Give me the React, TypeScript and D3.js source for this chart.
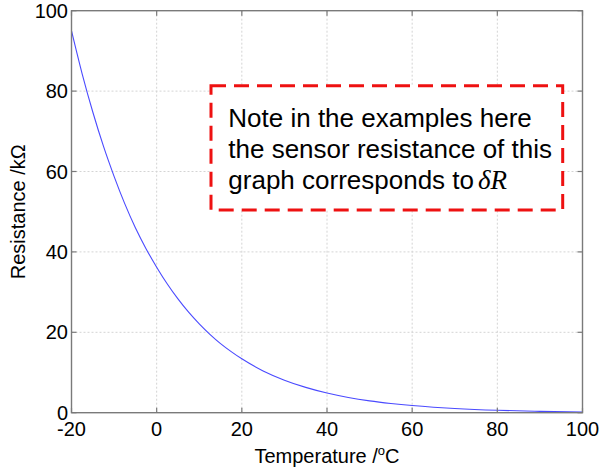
import React from "react";
import * as d3 from "d3";

const temperatures = [-20, -17.5, -15, -12.5, -10, -7.5, -5, -2.5, 0, 2.5, 5, 7.5, 10, 12.5, 15, 17.5, 20, 25, 30, 35, 40, 45, 50, 55, 60, 65, 70, 80, 90, 100];
const resistances = [95, 84.3, 74.8, 66.3, 58.8, 52.0, 46.0, 40.8, 36.2, 32.0, 28.3, 25.0, 22.1, 19.5, 17.2, 15.2, 13.4, 10.4, 8.1, 6.3, 4.9, 3.8, 2.95, 2.3, 1.78, 1.37, 1.05, 0.6, 0.34, 0.19];
const xTicks = [-20, 0, 20, 40, 60, 80, 100];
const yTicks = [0, 20, 40, 60, 80, 100];
const noteLines = ["Note in the examples here", "the sensor resistance of this", "graph corresponds to"];

const W = 599;
const H = 471;
const L = 71.5, R = 582.5, T = 10.7, B = 412.7;

export default function App() {
  const x = d3.scaleLinear().domain([-20, 100]).range([L, R]);
  const y = d3.scaleLinear().domain([0, 100]).range([B, T]);
  const data = temperatures.map((t, i) => [t, resistances[i]] as [number, number]);
  const line = d3
    .line<[number, number]>()
    .x((d) => x(d[0]))
    .y((d) => y(d[1]))
    .curve(d3.curveMonotoneX);
  const axisColor = "#7a7a7a";
  const font = "'Liberation Sans', Arial, sans-serif";
  return (
    <svg width={W} height={H} style={{ position: "absolute", left: 0, top: 0, background: "#fff" }} fontFamily={font}>
      <rect x={0} y={0} width={W} height={H} fill="#fff" />
      {xTicks.slice(1, -1).map((t) => (
        <line key={"gx" + t} x1={x(t)} x2={x(t)} y1={T} y2={B} stroke="#d4d4d4" strokeWidth={1} strokeDasharray="2,2" />
      ))}
      {yTicks.slice(1, -1).map((t) => (
        <line key={"gy" + t} x1={L} x2={R} y1={y(t)} y2={y(t)} stroke="#d4d4d4" strokeWidth={1} strokeDasharray="2,2" />
      ))}
      <path d={line(data) || ""} fill="none" stroke="#4a4aff" strokeWidth={1.1} />
      <rect x={L} y={T} width={R - L} height={B - T} fill="none" stroke={axisColor} strokeWidth={1.4} />
      {xTicks.map((t) => (
        <g key={"tx" + t}>
          <line x1={x(t)} x2={x(t)} y1={B} y2={B - 5} stroke={axisColor} strokeWidth={1.2} />
          <line x1={x(t)} x2={x(t)} y1={T} y2={T + 5} stroke={axisColor} strokeWidth={1.2} />
          <text x={x(t)} y={436} textAnchor="middle" fontSize={20} fill="#000">
            {t}
          </text>
        </g>
      ))}
      {yTicks.map((t) => (
        <g key={"ty" + t}>
          <line x1={L} x2={L + 5} y1={y(t)} y2={y(t)} stroke={axisColor} strokeWidth={1.2} />
          <line x1={R} x2={R - 5} y1={y(t)} y2={y(t)} stroke={axisColor} strokeWidth={1.2} />
          <text x={68} y={y(t) + 7} textAnchor="end" fontSize={20} fill="#000">
            {t}
          </text>
        </g>
      ))}
      <text x={(L + R) / 2} y={463.3} textAnchor="middle" fontSize={20} fill="#000">
        Temperature /<tspan fontSize={13} dy={-8}>o</tspan>
        <tspan dy={8}>C</tspan>
      </text>
      <text transform={`translate(25,${(T + B) / 2}) rotate(-90)`} textAnchor="middle" fontSize={20} fill="#000">
        Resistance /kΩ
      </text>
      <rect x={211} y={85.7} width={351.7} height={124.3} fill="#fff" stroke="#ee1111" strokeWidth={3} strokeDasharray="15,8" />
      {noteLines.map((s, i) => (
        <text key={i} x={228.3} y={126.7 + i * 31.3} fontSize={26} fill="#000">
          {s}
          {i === 2 ? (
            <tspan fontFamily="'Liberation Serif', 'Times New Roman', serif" fontStyle="italic" fontSize={27} dx={4}>
              δR
            </tspan>
          ) : null}
        </text>
      ))}
    </svg>
  );
}
